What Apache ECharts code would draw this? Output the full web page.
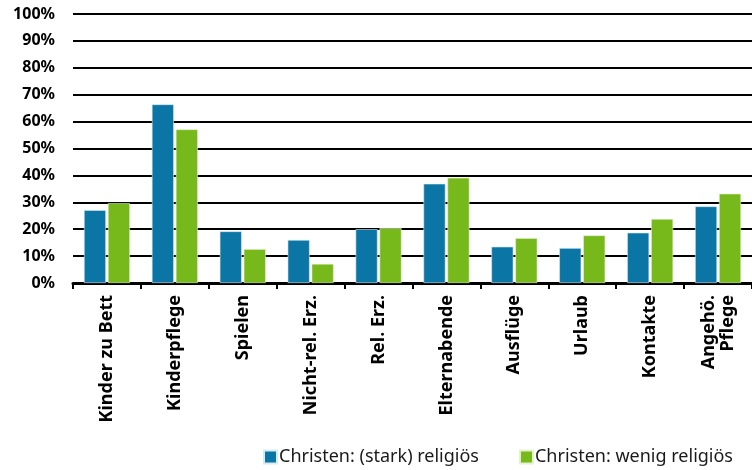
<!DOCTYPE html>
<html><head><meta charset="utf-8">
<script src="https://cdn.jsdelivr.net/npm/echarts@6/dist/echarts.min.js"></script>
<style>html,body{margin:0;padding:0;background:#fff}#c{width:752px;height:470px}</style>
</head><body><div id="c"></div>
<script>
const categories = ['Kinder zu Bett','Kinderpflege','Spielen','Nicht-rel. Erz.','Rel. Erz.','Elternabende','Ausflüge','Urlaub','Kontakte','Angehö.\nPflege'];
const seriesNames = ['Christen: (stark) religiös','Christen: wenig religiös'];
const strongReligious = [27.1, 66.4, 19.2, 16.0, 20.0, 36.9, 13.5, 13.0, 18.7, 28.5];
const weakReligious = [29.7, 57.1, 12.6, 7.1, 20.4, 39.1, 16.7, 17.7, 23.8, 33.2];
const colors = ['#0b76a5', '#77b81b'];

const chart = echarts.init(document.getElementById('c'));
const font = '"Noto Sans", "Open Sans", sans-serif';
chart.setOption({
  animation: false,
  textStyle: { fontFamily: font },
  grid: { left: 73, right: 0, top: 14, bottom: 187, containLabel: false },
  legend: {
    left: 258, top: 443, itemWidth: 13, itemHeight: 13, itemGap: 40,
    icon: 'rect',
    textStyle: { fontSize: 18, color: '#1a1a1a', fontFamily: font, padding: [0, 0, 0, -3] },
    data: seriesNames
  },
  xAxis: {
    type: 'category', data: categories,
    axisLine: { lineStyle: { color: '#000', width: 3 } },
    axisTick: { show: true, length: 6, lineStyle: { color: '#000', width: 2 } },
    axisLabel: { rotate: 90, interval: 0, fontSize: 18, fontWeight: 'bold', color: '#000', margin: 12, lineHeight: 19, align: 'right' }
  },
  yAxis: {
    type: 'value', min: 0, max: 100, interval: 10,
    axisLine: { show: false }, axisTick: { show: false },
    splitLine: { lineStyle: { color: '#000', width: 2 } },
    axisLabel: { formatter: '{value}%', fontSize: 16, fontWeight: 'bold', color: '#000', margin: 18 }
  },
  series: [
    { name: seriesNames[0], type: 'bar', data: strongReligious, barWidth: 22, barGap: '9%',
      itemStyle: { color: colors[0], borderColor: '#d6ebf3', borderWidth: 0.6 } },
    { name: seriesNames[1], type: 'bar', data: weakReligious, barWidth: 22,
      itemStyle: { color: colors[1], borderColor: '#e3f2cf', borderWidth: 0.6 } }
  ]
});
</script></body></html>
